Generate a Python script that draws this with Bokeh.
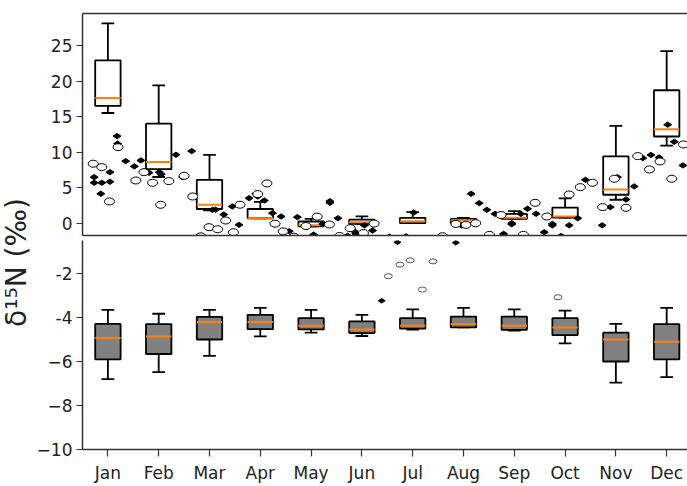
import numpy as np
from bokeh.plotting import figure
from bokeh.models import Range1d, LinearAxis, FixedTicker, Label
from bokeh.layouts import row, column
from bokeh.embed import file_html
from bokeh.resources import INLINE

months = ["Jan", "Feb", "Mar", "Apr", "May", "Jun", "Jul", "Aug", "Sep", "Oct", "Nov", "Dec"]
mx = np.arange(1, 13)

# upper panel boxplots
top_lo = [15.5, 6.5, 1.8, 0.7, -0.45, -0.1, 0.0, 0.0, 0.6, 0.8, 3.3, 10.9]
top_q1 = [16.5, 7.6, 2.0, 0.7, -0.45, -0.1, 0.0, 0.0, 0.6, 0.8, 4.0, 12.2]
top_med = [17.6, 8.6, 2.6, 0.7, -0.3, 0.15, 0.28, 0.4, 0.76, 0.95, 4.75, 13.2]
top_q3 = [22.9, 14.0, 6.1, 2.0, 0.24, 0.5, 0.76, 0.6, 1.3, 2.2, 9.4, 18.7]
top_hi = [28.1, 19.4, 9.6, 3.0, 0.6, 0.95, 1.55, 0.75, 1.7, 3.5, 13.7, 24.2]

# lower panel boxplots
bot_lo = [-6.8, -6.48, -5.74, -4.86, -4.69, -4.84, -4.55, -4.45, -4.6, -5.18, -6.96, -6.71]
bot_q1 = [-5.9, -5.66, -5.0, -4.53, -4.54, -4.71, -4.51, -4.45, -4.56, -4.8, -6.0, -5.9]
bot_med = [-4.93, -4.86, -4.2, -4.2, -4.38, -4.54, -4.38, -4.29, -4.38, -4.45, -5.0, -5.1]
bot_q3 = [-4.29, -4.3, -3.97, -3.88, -4.03, -4.18, -4.03, -3.96, -3.96, -4.03, -4.69, -4.3]
bot_hi = [-3.65, -3.83, -3.65, -3.56, -3.65, -3.88, -3.63, -3.56, -3.63, -3.69, -4.29, -3.56]

# upper panel scatter: filled diamonds
dia_x = [0.73, 0.73, 0.88, 1.04, 0.86, 1.04, 1.18, 1.19, 1.35, 1.52, 1.65, 1.81, 2.01, 2.05,
         2.34, 2.47, 2.65, 3.06, 3.12, 3.28, 3.45, 3.58, 3.78, 3.91, 3.95, 4.08, 4.24, 4.41,
         4.57, 4.73, 5.05, 5.23, 5.37, 5.37, 5.53, 5.72, 5.85, 5.88, 6.05, 6.21, 6.54, 6.87,
         7.02, 7.96, 8.15, 8.31, 8.46, 8.62, 8.79, 8.95, 8.95, 9.13, 9.26, 9.43, 9.59, 9.75,
         9.75, 9.92, 10.08, 10.25, 10.40, 10.55, 10.73, 10.89, 11.03, 11.36, 11.2, 11.53,
         11.69, 11.85, 12.02, 12.15, 12.32]
dia_y = [6.48, 5.69, 5.69, 5.83, 4.14, 7.18, 12.25, 11.18, 8.73, 7.99, 8.83, 7.1, 7.18, 6.9,
         9.63, 6.48, 10.14, 1.88, 1.9, 1.22, 2.35, -0.23, 3.52, 4.14, 3.76, 3.2, 1.41, 0.94,
         -1.13, 0.85, -1.6, -0.1, 2.87, 3.1, 0.7, -1.78, -1.13, -1.5, -0.3, -1.03, -1.9, -1.85,
         1.5, -0.3, 4.14, 2.82, 1.88, 1.32, -1.5, 0.0, -0.15, 1.32, 2.03, 1.32, -1.27, -0.3,
         -0.1, -1.8, -0.3, 0.7, 6.1, 5.6, -0.3, 2.26, 6.48, 5.17, 3.34, 9.16,
         9.6, 9.25, 13.86, 11.45, 8.13]

# upper panel scatter: open circles
cir_x = [0.71, 0.88, 1.03, 1.20, 1.55, 1.71, 1.88, 2.04, 2.20, 2.50, 2.67, 2.83, 2.99, 3.16,
         3.32, 3.47, 3.60, 3.95, 4.13, 4.29, 4.45, 4.66, 4.90, 5.12, 5.36, 5.56, 5.77, 6.03,
         6.24, 7.59, 7.85, 8.05, 8.24, 8.51, 8.74, 9.18, 9.41, 9.64, 10.08, 10.3, 10.54,
         10.74, 10.97, 11.2, 11.43, 11.66, 11.87, 12.1, 12.33]
cir_y = [8.37, 7.89, 3.06, 10.7, 6.01, 7.18, 5.69, 2.59, 5.92, 6.67, 3.76, -1.85, -0.56, -0.85,
         0.38, -1.27, 2.6, 4.1, 5.6, -0.07, -1.15, -1.9, -0.4, 0.92, -0.18, -1.8, -0.7, -1.38,
         -0.05, -1.83, -0.1, -0.23, 0.0, -1.64, 1.15, -1.64, 2.87, 0.94, 4.04, 5.07, 5.69,
         2.26, 6.25, 2.17, 9.44, 7.56, 8.69, 6.25, 11.08]

# lower panel scatter
bcir_x = [6.52, 6.75, 6.95, 7.4, 7.19, 9.86]
bcir_y = [-2.12, -1.6, -1.4, -1.45, -2.73, -3.08]
bdia_x = [6.39, 6.7, 7.85]
bdia_y = [-3.24, -0.58, -0.6]

ORANGE = "#ff7f0e"
AX = "#333333"
TXT = "#222222"
FONT = "DejaVu Sans"

xr = Range1d(0.5, 12.41)
lo_arr = mx - 0.25
hi_arr = mx + 0.25
cap_l = mx - 0.125
cap_r = mx + 0.125


def style_y(ax, ticks, overrides=None):
    ax.ticker = FixedTicker(ticks=ticks)
    ax.axis_line_color = AX
    ax.axis_line_width = 1.5
    ax.major_tick_line_color = AX
    ax.major_tick_line_width = 1.2
    ax.major_tick_out = 6
    ax.major_tick_in = 0
    ax.minor_tick_line_color = None
    ax.major_label_text_font = FONT
    ax.major_label_text_font_size = "17px"
    ax.major_label_text_color = TXT
    ax.major_label_standoff = 4
    if overrides:
        ax.major_label_overrides = overrides


def blank_x(ax):
    ax.ticker = FixedTicker(ticks=[])
    ax.axis_line_color = AX
    ax.axis_line_width = 1.5
    ax.major_tick_line_color = None
    ax.minor_tick_line_color = None
    ax.major_tick_out = 0
    ax.major_tick_in = 0
    ax.minor_tick_out = 0
    ax.minor_tick_in = 0
    ax.major_label_text_font_size = "0px"
    ax.major_label_standoff = 0


def draw_boxes(p, lo, q1, med, q3, hi, fill):
    p.segment(mx, q3, mx, hi, line_color="black", line_width=1.8)
    p.segment(mx, q1, mx, lo, line_color="black", line_width=1.8)
    p.segment(cap_l, hi, cap_r, hi, line_color="black", line_width=1.8)
    p.segment(cap_l, lo, cap_r, lo, line_color="black", line_width=1.8)
    p.vbar(x=mx, width=0.5, bottom=q1, top=q3, fill_color=fill,
           line_color="black", line_width=1.8)
    p.segment(lo_arr, med, hi_arr, med, line_color=ORANGE, line_width=2)


# ---- top panel ----
p1 = figure(width=654, height=237, x_range=xr, y_range=Range1d(-1.73, 29.5),
            output_backend="svg", toolbar_location=None,
            min_border_left=49, min_border_right=0, min_border_top=13, min_border_bottom=2)
p1.outline_line_color = None
p1.grid.visible = False
style_y(p1.yaxis[0], [0, 5, 10, 15, 20, 25])
blank_x(p1.xaxis[0])
top_ax = LinearAxis()
blank_x(top_ax)
p1.add_layout(top_ax, "above")

draw_boxes(p1, top_lo, top_q1, top_med, top_q3, top_hi, "white")
p1.scatter(dia_x, dia_y, marker="diamond", size=8, angle=np.pi / 2,
           fill_color="black", line_color="black")
p1.ellipse(cir_x, cir_y, width=10, height=7, width_units="screen", height_units="screen",
           fill_color="white", line_color="black", line_width=1)

# ---- bottom panel ----
p2 = figure(width=654, height=248, x_range=xr, y_range=Range1d(-10, -0.5),
            output_backend="svg", toolbar_location=None,
            min_border_left=49, min_border_right=0, min_border_top=3, min_border_bottom=33)
p2.outline_line_color = None
p2.grid.visible = False
style_y(p2.yaxis[0], [-10, -8, -6, -4, -2],
        {-2: "-2", -4: "-4", -6: "\u22126", -8: "\u22128", -10: "\u221210"})
xa = p2.xaxis[0]
xa.ticker = FixedTicker(ticks=list(mx))
xa.major_label_overrides = {int(i): m for i, m in zip(mx, months)}
xa.axis_line_color = AX
xa.axis_line_width = 1.5
xa.major_tick_line_color = AX
xa.major_tick_line_width = 1.2
xa.major_tick_out = 7
xa.major_tick_in = 0
xa.minor_tick_line_color = None
xa.major_label_text_font = FONT
xa.major_label_text_font_size = "17px"
xa.major_label_text_color = TXT
xa.major_label_standoff = 6

draw_boxes(p2, bot_lo, bot_q1, bot_med, bot_q3, bot_hi, "#808080")
p2.ellipse(bcir_x, bcir_y, width=8, height=5, width_units="screen", height_units="screen",
           fill_color="white", line_color="#555555", line_width=1)
p2.scatter(bdia_x, bdia_y, marker="diamond", size=7, angle=np.pi / 2,
           fill_color="black", line_color="black")

# ---- y label column ----
pl = figure(width=33, height=485, x_range=Range1d(0, 33), y_range=Range1d(0, 485),
            output_backend="svg", toolbar_location=None,
            min_border_left=0, min_border_right=0, min_border_top=0, min_border_bottom=0)
pl.axis.visible = False
pl.grid.visible = False
pl.outline_line_color = None
pl.add_layout(Label(x=16, y=223, text="\u03b4\u00b9\u2075N (\u2030)", angle=np.pi / 2,
                    text_align="center", text_baseline="middle",
                    text_font=FONT, text_font_size="28px", text_color=TXT))

layout = row(pl, column(p1, p2))
open("out.html", "w").write(file_html(layout, INLINE))
